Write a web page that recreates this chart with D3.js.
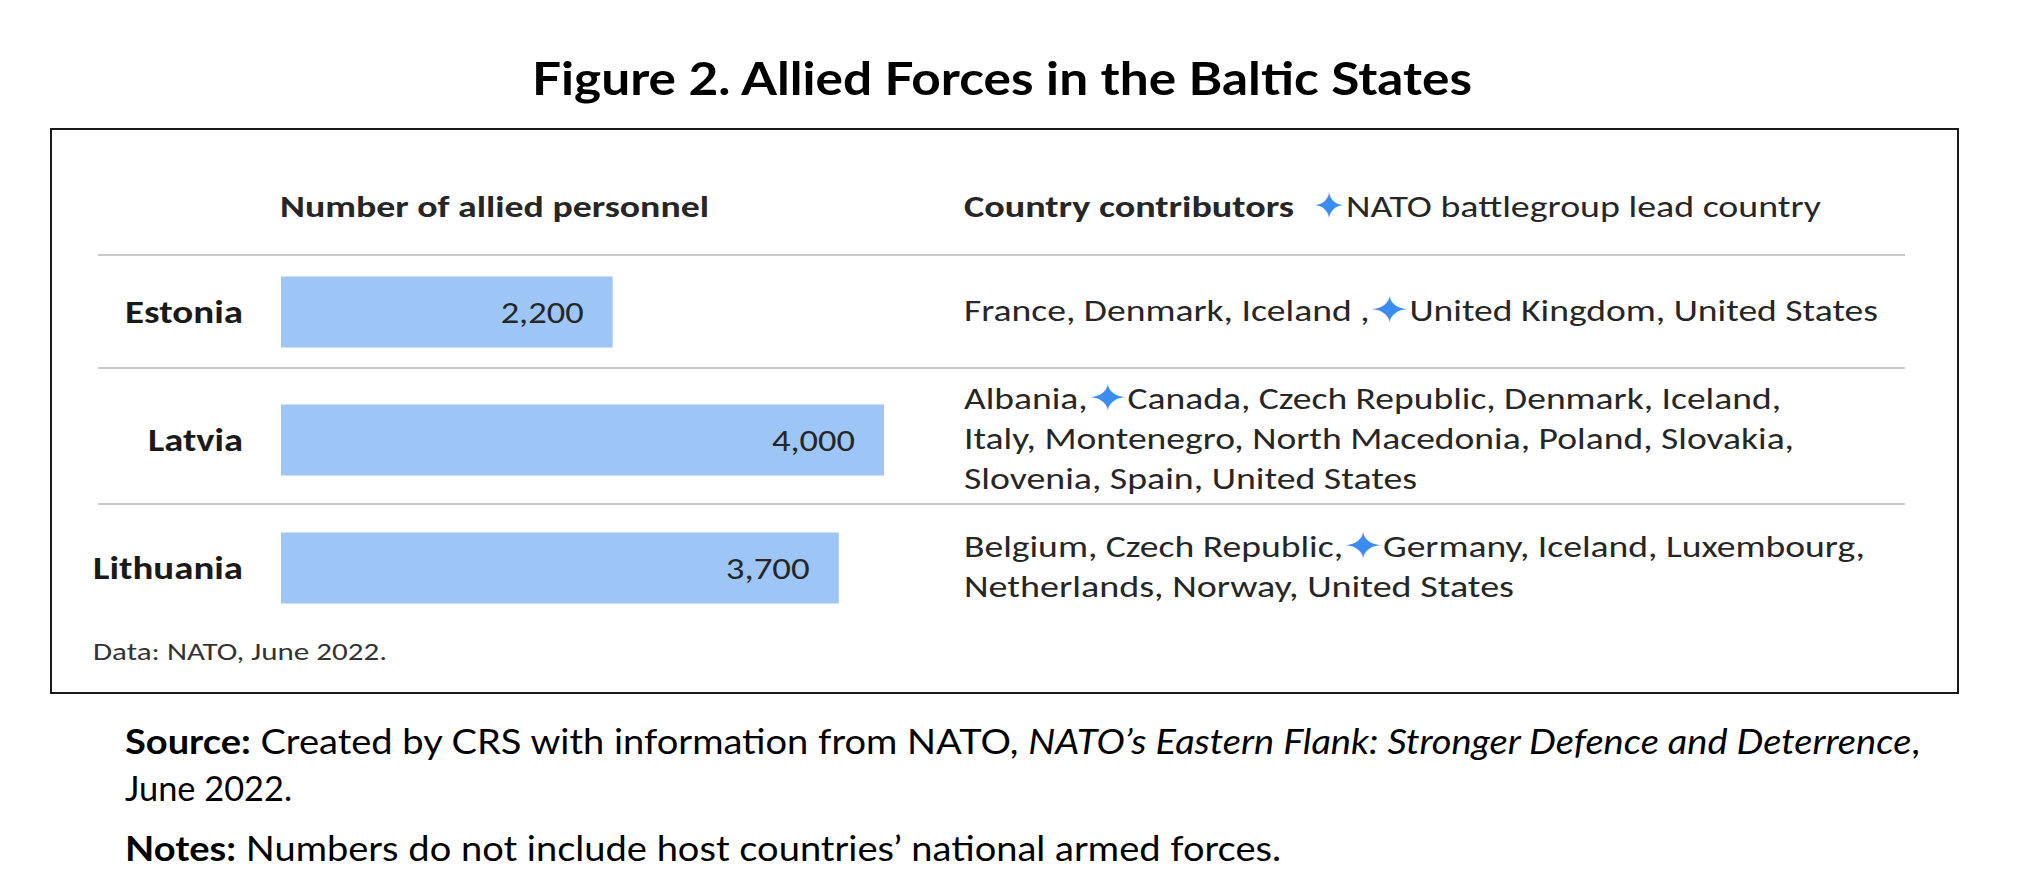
<!DOCTYPE html>
<html>
<head>
<meta charset="utf-8">
<script src="https://cdn.jsdelivr.net/npm/d3@7"></script>
<style>
    body { margin: 0; background: #ffffff; }
    svg { display: block; }
</style>
</head>
<body>
<script>
// chart values
const countries = ['Estonia', 'Latvia', 'Lithuania']
const personnel = [2200, 4000, 3700]
const contributorLines = [
    ['France, Denmark, Iceland ,✦United Kingdom, United States'],
    ['Albania,✦Canada, Czech Republic, Denmark, Iceland,',
     'Italy, Montenegro, North Macedonia, Poland, Slovakia,',
     'Slovenia, Spain, United States'],
    ['Belgium, Czech Republic,✦Germany, Iceland, Luxembourg,',
     'Netherlands, Norway, United States']
]
const titleText = 'Figure 2. Allied Forces in the Baltic States'
const barHeader = 'Number of allied personnel'
const listHeader = 'Country contributors'
const legendText = 'NATO battlegroup lead country'
const dataNote = 'Data: NATO, June 2022.'

// layout
const W = 2036, H = 894
const box = {x: 51, y: 129, w: 1907, h: 564}
const barX0 = 281
const barMaxW = 603
const barH = 71
const listX = 964
const lineGap = 40
const separators = [255, 368, 504]
const lineWidths = [[914], [817, 830, 453], [901, 550]]
const valueWidths = [83, 83, 84]
const labelWidths = [118, 95, 150]

const sans = 'Carlito, Calibri, "Open Sans", Lato, sans-serif'
const gill = '"Gill Sans", "Gill Sans MT", Lato, sans-serif'
const blue = '#9dc6f6'
const starBlue = '#3b8cf0'
const starFont = '"DejaVu Sans", sans-serif'

window.onload = function(){
    const svg = d3.select('body').append('svg')
        .attr('width', W)
        .attr('height', H)

    const x = d3.scaleLinear().domain([0, 4000]).range([0, barMaxW])
    const y = d3.scalePoint().domain(countries).range([312, 568])

    // title
    fit(svg.append('text')
        .attr('x', 1002).attr('y', 95)
        .attr('text-anchor', 'middle')
        .style('font-family', gill)
        .style('font-weight', 700)
        .style('font-size', '46px')
        .style('fill', '#000')
        .text(titleText), 940)

    // frame
    svg.append('rect')
        .attr('x', box.x).attr('y', box.y)
        .attr('width', box.w).attr('height', box.h)
        .style('fill', 'none')
        .style('stroke', '#1a1a1a')
        .style('stroke-width', 2)

    // headers
    fit(svg.append('text')
        .attr('x', 280).attr('y', 217)
        .style('font-family', sans).style('font-weight', 700)
        .style('font-size', '30px').style('fill', '#262626')
        .text(barHeader), 429)

    fit(svg.append('text')
        .attr('x', listX).attr('y', 217)
        .style('font-family', sans).style('font-weight', 700)
        .style('font-size', '30px').style('fill', '#262626')
        .text(listHeader), 330)

    svg.append('text')
        .attr('x', 1329).attr('y', 219)
        .attr('text-anchor', 'middle')
        .style('font-family', starFont)
        .style('font-size', '38px').style('fill', starBlue)
        .text('✦')

    fit(svg.append('text')
        .attr('x', 1346).attr('y', 217)
        .style('font-family', sans)
        .style('font-size', '30px').style('fill', '#262626')
        .text(legendText), 475)

    // separators
    svg.selectAll('line.sep')
        .data(separators)
        .join('line')
        .attr('class', 'sep')
        .attr('x1', 98).attr('x2', 1905)
        .attr('y1', d => d).attr('y2', d => d)
        .style('stroke', '#c9c9c9')
        .style('stroke-width', 2)

    const rows = svg.selectAll('g.row')
        .data(countries.map((c, i) => ({country: c, value: personnel[i], lines: contributorLines[i], i: i})))
        .join('g')
        .attr('class', 'row')
        .attr('transform', d => d3Helper.getTranslateString(0, y(d.country)))

    rows.append('rect')
        .attr('x', barX0)
        .attr('y', -barH / 2)
        .attr('width', d => x(d.value))
        .attr('height', barH)
        .style('fill', blue)

    rows.append('text')
        .attr('x', 243).attr('y', 11)
        .attr('text-anchor', 'end')
        .style('font-family', sans).style('font-weight', 700)
        .style('font-size', '32px').style('fill', '#1a1a1a')
        .text(d => d.country)
        .each(function(d){ fit(d3.select(this), labelWidths[d.i]) })

    rows.append('text')
        .attr('x', d => barX0 + x(d.value) - 29).attr('y', 11)
        .attr('text-anchor', 'end')
        .style('font-family', sans)
        .style('font-size', '30px').style('fill', '#262626')
        .text(d => d3.format(',')(d.value))
        .each(function(d){ fit(d3.select(this), valueWidths[d.i]) })

    // contributor lists
    rows.each(function(d){
        const g = d3.select(this)
        const n = d.lines.length
        d.lines.forEach((line, k) => {
            const t = g.append('text')
                .attr('x', listX)
                .attr('y', 9 + (k - (n - 1) / 2) * lineGap)
                .style('font-family', sans)
                .style('font-size', '30px').style('fill', '#262626')
            line.split('✦').forEach((part, j) => {
                if(j > 0){
                    t.append('tspan')
                        .style('fill', starBlue)
                        .style('font-family', starFont)
                        .style('font-size', '38px')
                        .attr('dy', 2)
                        .text('✦')
                    t.append('tspan').attr('dy', -2).text(part)
                } else {
                    t.append('tspan').text(part)
                }
            })
            fit(t, lineWidths[d.i][k])
        })
    })

    // data note
    fit(svg.append('text')
        .attr('x', 93).attr('y', 660)
        .style('font-family', sans)
        .style('font-size', '24px').style('fill', '#333')
        .text(dataNote), 294)

    // source and notes
    const src = svg.append('text')
        .attr('x', 125).attr('y', 754)
        .style('font-family', gill)
        .style('font-size', '34px').style('fill', '#000')
    src.append('tspan').style('font-weight', 700).text('Source:')
    src.append('tspan').text(' Created by CRS with information from NATO, ')
    src.append('tspan').style('font-style', 'italic').text('NATO’s Eastern Flank: Stronger Defence and Deterrence')
    src.append('tspan').text(',')
    fit(src, 1795)

    fit(svg.append('text')
        .attr('x', 125).attr('y', 801)
        .style('font-family', gill)
        .style('font-size', '34px').style('fill', '#000')
        .text('June 2022.'), 167)

    const notes = svg.append('text')
        .attr('x', 125).attr('y', 861)
        .style('font-family', gill)
        .style('font-size', '34px').style('fill', '#000')
    notes.append('tspan').style('font-weight', 700).text('Notes:')
    notes.append('tspan').text(' Numbers do not include host countries’ national armed forces.')
    fit(notes, 1156)
}

function fit(sel, width){
    sel.attr('textLength', width).attr('lengthAdjust', 'spacingAndGlyphs')
    return sel
}

class d3Helper {
    static getTranslateString(x, y){
        return "translate(" + x + "," + y + ")"
    }
}
</script>
</body>
</html>
